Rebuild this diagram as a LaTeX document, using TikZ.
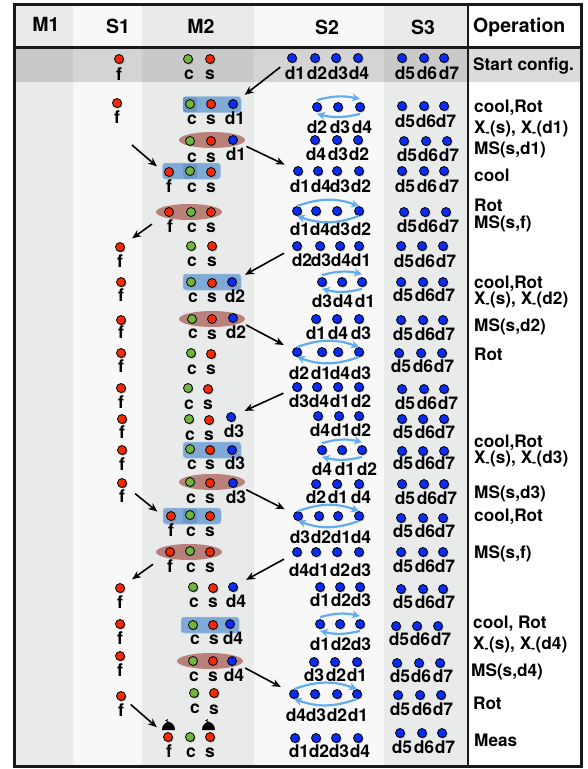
\documentclass[tikz,border=0pt]{standalone}
\usepackage{fontspec}
\setmainfont{TeX Gyre Heros}
\usepackage{tikz}
\usetikzlibrary{arrows.meta,positioning,shapes.geometric,shadows}
\definecolor{colgray}{HTML}{E9EBEA}
\definecolor{colpale}{HTML}{F8F8F8}
\definecolor{coolblue}{HTML}{7FA9D6}
\definecolor{cooldark}{HTML}{6A99C8}
\definecolor{gatered}{HTML}{BA817B}
\definecolor{swapblue}{HTML}{62ADF0}
\definecolor{ionred}{HTML}{F52A05}
\definecolor{iongreen}{HTML}{70B53C}
\definecolor{ionblue}{HTML}{0A2CF5}
\tikzset{
  ion/.style={draw=black,circle,inner sep=0pt,minimum size=9pt,line width=.8pt,
    drop shadow={shadow xshift=1pt,shadow yshift=-1pt,fill=black!50,opacity=1}},
  rion/.style={ion,fill=ionred},
  gion/.style={ion,fill=iongreen},
  bion/.style={ion,fill=ionblue},
  ionlabel/.style={inner sep=0pt,text height=12.5pt,text depth=0pt,font=\fontsize{17.5}{17.5}\selectfont\bfseries},
  head/.style={inner sep=0pt,font=\fontsize{19.5}{19.5}\selectfont\bfseries},
  oplabel/.style={inner sep=0pt,anchor=west,font=\fontsize{17.2}{17.2}\selectfont\bfseries},
  coolbox/.style={rounded corners=3pt,fill=coolblue,draw=coolblue!70!white,line width=.5pt,minimum width=58pt,minimum height=16pt},
  cooltile/.style={rounded corners=2pt,fill=cooldark,minimum width=14pt,minimum height=15pt},
  gatering/.style={ellipse,fill=gatered,inner sep=0pt,minimum width=66pt,minimum height=16pt},
  hop/.style={line width=1.6pt,-{Stealth[length=9pt,width=7.5pt]},shorten <=10pt,shorten >=10pt},
  swaparc/.style={swapblue,line width=2.2pt,-{Stealth[length=8pt,width=8pt]}}
}
% one row of ions: style, row tag, dot y, label y, list of dot x / label x / name
\newcommand{\ions}[5]{\foreach \px/\lx/\txt in {#5} {
  \node[#1] (\txt#2) at (\px,#3) {};
  \node[ionlabel] (l\txt#2) at (\lx,#4) {\txt};
}}
\begin{document}
\begin{tikzpicture}[x=1pt,y=-1pt]
\useasboundingbox (0,0) rectangle (587,769);
\fill[white] (0,0) rectangle (587,769);
% columns and the start row
\fill[colgray] (15,5) rectangle (73,766);
\fill[colpale] (73,5) rectangle (142,766);
\fill[colgray] (142,5) rectangle (254,766);
\fill[colpale] (254,5) rectangle (384,766);
\fill[colgray] (384,5) rectangle (468,766);
\fill[black,opacity=.14] (15,48) rectangle (581,82);
\draw[line width=2.6pt,black!90] (14.5,4.5) rectangle (581.5,766.5);
\draw[line width=2.6pt,black!90] (14.5,47.5) -- (581.5,47.5);
\draw[line width=2.6pt,black!90] (468,4.5) -- (468,766.5);
\node[head] (m1) at (46,24) {M1};
\node[head] (s1) at (118,26) {S1};
\node[head] (m2) at (201,26) {M2};
\node[head] (s2) at (327,27) {S2};
\node[head] (s3) at (423,27) {S3};
\node[head,anchor=west] (oper) at (473,27) {Operation};
% cooling boxes and gates, below the ions
\node[coolbox] (box1) at (212,104.5) {};
\node[cooltile] (tile1) at (190,104.5) {};
\node[gatering] (gate2) at (212,140) {};
\node[coolbox] (box3) at (191.5,171) {};
\node[cooltile] (tile3) at (190,171) {};
\node[gatering] (gate4) at (189,212) {};
\node[coolbox] (box6) at (212,282) {};
\node[gatering] (gate7) at (212,319) {};
\node[coolbox] (box11) at (212,450) {};
\node[gatering] (gate12) at (212,482) {};
\node[coolbox] (box13) at (192,516) {};
\node[cooltile] (tile13) at (190,516) {};
\node[gatering] (gate14) at (189,552) {};
\node[coolbox] (box16) at (210,625) {};
\node[gatering] (gate17) at (210,661) {};
% S1
\ions{rion}{r0}{59}{74}{119/119/f}
\ions{rion}{r1}{103}{117}{117/117/f}
\ions{rion}{r5}{247}{261}{120/120/f}
\ions{rion}{r6}{282}{295}{121/121/f}
\ions{rion}{r7}{320}{332}{121/121/f}
\ions{rion}{r8}{353}{366}{121/121/f}
\ions{rion}{r9}{388}{402}{121/121/f}
\ions{rion}{r10}{419}{432}{122/122/f}
\ions{rion}{r11}{450}{464}{122/122/f}
\ions{rion}{r12}{483}{496}{122/122/f}
\ions{rion}{r15}{588}{602}{120/120/f}
\ions{rion}{r16}{624}{638}{120/120/f}
\ions{rion}{r17}{656}{670}{120/120/f}
\ions{rion}{r18}{696}{710}{121/121/f}
% M2
\ions{gion}{r0}{59}{73}{188/189/c}
\ions{rion}{r0}{59}{73}{210/210/s}
\ions{gion}{r1}{104}{118}{190/192/c}
\ions{rion}{r1}{104}{118}{211/211/s}
\ions{bion}{r1}{104}{118}{233/235/d1}
\ions{gion}{r2}{141}{156}{190/192/c}
\ions{rion}{r2}{141}{156}{211/211/s}
\ions{bion}{r2}{140}{154}{233/236/d1}
\ions{rion}{r3}{172}{186}{169/169/f,211/211/s}
\ions{gion}{r3}{171}{186}{190/192/c}
\ions{rion}{r4}{212}{226}{169/170/f,211/211/s}
\ions{gion}{r4}{212}{226}{191/192/c}
\ions{gion}{r5}{246}{260}{191/192/c}
\ions{rion}{r5}{246}{260}{212/212/s}
\ions{gion}{r6}{282}{296}{191/193/c}
\ions{rion}{r6}{283}{296}{212/212/s}
\ions{bion}{r6}{282}{296}{232/235/d2}
\ions{gion}{r7}{319}{332}{192/193/c}
\ions{rion}{r7}{319}{333}{212/212/s}
\ions{bion}{r7}{318}{332}{233/236/d2}
\ions{gion}{r8}{353}{368}{191/192/c}
\ions{rion}{r8}{354}{368}{211/211/s}
\ions{gion}{r9}{388}{403}{188/189/c}
\ions{rion}{r9}{389}{403}{208/208/s}
\ions{gion}{r10}{419}{434}{189/190/c}
\ions{rion}{r10}{420}{434}{209/209/s}
\ions{bion}{r10}{417}{431}{231/234/d3}
\ions{gion}{r11}{449}{463}{190/192/c}
\ions{rion}{r11}{450}{463}{210/210/s}
\ions{bion}{r11}{450}{463}{232/235/d3}
\ions{gion}{r12}{482}{497}{190/191/c}
\ions{rion}{r12}{483}{497}{210/210/s}
\ions{bion}{r12}{483}{497}{233/236/d3}
\ions{rion}{r13}{516}{530}{171/171/f,210/210/s}
\ions{gion}{r13}{515}{530}{190/191/c}
\ions{rion}{r14}{552}{566}{170/170/f,210/210/s}
\ions{gion}{r14}{551}{566}{190/191/c}
\ions{gion}{r15}{587}{601}{193/194/c}
\ions{rion}{r15}{588}{601}{213/213/s}
\ions{bion}{r15}{587}{601}{233/236/d4}
\ions{gion}{r16}{625}{638}{193/195/c}
\ions{rion}{r16}{625}{638}{213/214/s}
\ions{bion}{r16}{624}{638}{230/233/d4}
\ions{gion}{r17}{661}{675}{193/194/c}
\ions{rion}{r17}{661}{675}{213/213/s}
\ions{bion}{r17}{661}{675}{232/234/d4}
\ions{gion}{r18}{693}{707}{194/195/c}
\ions{rion}{r18}{693}{708}{214/214/s}
\ions{rion}{r19}{737}{751}{168/169/f,210/210/s}
\ions{gion}{r19}{737}{751}{190/191/c}
% S2
\ions{bion}{r0}{58}{73}{292/295/d1,315/317/d2,336/338/d3,358/359/d4}
\ions{bion}{r1}{107}{127}{317/317/d2,338/340/d3,360/362/d4}
\ions{bion}{r2}{140}{154}{315/316/d4,337/338/d3,358/359/d2}
\ions{bion}{r3}{171}{186}{298/300/d1,318/321/d4,337/340/d3,359/361/d2}
\ions{bion}{r4}{211}{229}{297/300/d1,316/320/d4,337/340/d3,359/361/d2}
\ions{bion}{r5}{246}{260}{297/302/d2,320/321/d3,340/341/d4,359/361/d1}
\ions{bion}{r6}{282}{301}{322/322/d3,342/343/d4,362/365/d1}
\ions{bion}{r7}{319}{333}{316/316/d1,337/338/d4,359/361/d3}
\ions{bion}{r8}{352}{373}{297/299/d2,322/321/d1,338/340/d4,359/361/d3}
\ions{bion}{r9}{387}{401}{297/299/d3,317/319/d4,338/340/d1,359/361/d2}
\ions{bion}{r10}{416}{430}{318/320/d4,339/341/d1,359/361/d2}
\ions{bion}{r11}{450}{469}{322/322/d4,342/345/d1,362/367/d2}
\ions{bion}{r12}{484}{497}{316/316/d2,337/338/d1,359/361/d4}
\ions{bion}{r13}{516}{537}{298/300/d3,319/321/d2,338/341/d1,359/361/d4}
\ions{bion}{r14}{552}{570}{297/299/d4,316/319/d1,337/340/d2,359/361/d3}
\ions{bion}{r15}{587}{600}{320/320/d1,340/341/d2,360/361/d3}
\ions{bion}{r16}{624}{644}{320/320/d1,340/341/d2,360/361/d3}
\ions{bion}{r17}{662}{675}{314/314/d3,335/336/d2,357/357/d1}
\ions{bion}{r18}{694}{715}{294/296/d4,315/316/d3,337/337/d2,357/358/d1}
\ions{bion}{r19}{738}{751}{295/299/d1,316/319/d2,336/339/d3,358/360/d4}
% S3
\ions{bion}{r0}{58}{73}{402/405/d5,424/427/d6,444/449/d7}
\ions{bion}{r1}{106}{121}{402/405/d5,424/426/d6,444/446/d7}
\ions{bion}{r2}{141}{155}{404/407/d5,426/428/d6,447/449/d7}
\ions{bion}{r3}{171}{186}{402/405/d5,424/427/d6,444/449/d7}
\ions{bion}{r4}{212}{226}{404/407/d5,425/428/d6,446/449/d7}
\ions{bion}{r5}{246}{261}{401/404/d5,422/425/d6,443/446/d7}
\ions{bion}{r6}{282}{295}{401/403/d5,423/425/d6,443/445/d7}
\ions{bion}{r7}{320}{334}{401/403/d5,423/425/d6,443/445/d7}
\ions{bion}{r8}{353}{366}{399/401/d5,421/423/d6,442/444/d7}
\ions{bion}{r9}{389}{403}{402/405/d5,424/427/d6,444/448/d7}
\ions{bion}{r10}{419}{432}{402/403/d5,423/425/d6,444/445/d7}
\ions{bion}{r11}{451}{463}{402/403/d5,423/425/d6,444/445/d7}
\ions{bion}{r12}{484}{498}{402/405/d5,424/427/d6,444/447/d7}
\ions{bion}{r13}{518}{531}{401/403/d5,423/425/d6,443/445/d7}
\ions{bion}{r14}{552}{566}{401/403/d5,423/425/d6,443/445/d7}
\ions{bion}{r15}{589}{602}{401/403/d5,423/425/d6,443/445/d7}
\ions{bion}{r16}{626}{639}{396/399/d5,417/420/d6,438/441/d7}
\ions{bion}{r17}{663}{676}{397/400/d5,419/421/d6,440/443/d7}
\ions{bion}{r18}{695}{709}{398/400/d5,420/422/d6,441/443/d7}
\ions{bion}{r19}{733}{747}{400/402/d5,422/424/d6,442/445/d7}
% rotations in S2
\draw[swaparc] ([yshift=2pt]d2r1.north) to[bend left=14] ([yshift=3pt]d4r1.north);
\draw[swaparc] ([yshift=-2pt]d4r1.south) to[bend left=14] ([yshift=-2pt]d2r1.south);
\draw[swaparc] (d1r4.north) to[bend left=20] (d2r4.north);
\draw[swaparc] (d2r4.south) to[bend left=20] (d1r4.south);
\draw[swaparc] ([yshift=2pt]d3r6.north) to[bend left=14] ([yshift=3pt]d1r6.north);
\draw[swaparc] ([yshift=-2pt]d1r6.south) to[bend left=14] ([yshift=-2pt]d3r6.south);
\draw[swaparc] (d2r8.north) to[bend left=20] (d3r8.north);
\draw[swaparc] (d3r8.south) to[bend left=20] (d2r8.south);
\draw[swaparc] ([yshift=2pt]d4r11.north) to[bend left=14] ([yshift=3pt]d2r11.north);
\draw[swaparc] ([yshift=-2pt]d2r11.south) to[bend left=14] ([yshift=-2pt]d4r11.south);
\draw[swaparc] (d3r13.north) to[bend left=20] (d4r13.north);
\draw[swaparc] (d4r13.south) to[bend left=20] (d3r13.south);
\draw[swaparc] ([yshift=2pt]d1r16.north) to[bend left=14] ([yshift=3pt]d3r16.north);
\draw[swaparc] ([yshift=-2pt]d3r16.south) to[bend left=14] ([yshift=-2pt]d1r16.south);
\draw[swaparc] (d4r18.north) to[bend left=20] (d1r18.north);
\draw[swaparc] (d1r18.south) to[bend left=20] (d4r18.south);
% ion moves
\coordinate (ftail) at (132,145);
\draw[hop] (d1r0) -- (d1r1);
\draw[hop] (d1r2) -- (d1r3);
\draw[hop,shorten <=0pt,shorten >=7pt] (ftail) -- (box3.west);
\draw[hop,shorten <=16pt] (fr4) -- (fr5);
\draw[hop] (d2r5) -- (d2r6);
\draw[hop] (d2r7) -- (d2r8);
\draw[hop] (d3r9) -- (d3r10);
\draw[hop,shorten <=12pt,shorten >=7pt] (fr12) -- (box13.west);
\draw[hop] (d3r12) -- (d3r13);
\draw[hop,shorten <=16pt] (fr14) -- (fr15);
\draw[hop] (d4r14) -- (d4r15);
\draw[hop] (d4r17) -- (d4r18);
\draw[hop,shorten <=8pt] (fr18) -- (fr19);
% detector bells
\foreach \bx in {168.5,208.5} {
  \fill[black] (\bx-6.5,730) .. controls (\bx-6.5,725) and (\bx-3,722) .. (\bx,722) .. controls (\bx+3,722) and (\bx+6.5,725) .. (\bx+6.5,730) -- cycle;
  \draw[line width=.8pt] (\bx,722) -- (\bx-2.5,720.5) -- (\bx-.5,719.5);
}
% operations
\node[oplabel] (op0) at (473,66) {Start config.};
\node[oplabel] (op1) at (474,108) {cool,Rot};
\node[oplabel] (op2) at (474,129) {X\textsubscript{-}(s), X\textsubscript{-}(d1)};
\node[oplabel] (op3) at (474,150) {MS(s,d1)};
\node[oplabel] (op4) at (474,175) {cool};
\node[oplabel] (op5) at (474,205) {Rot};
\node[oplabel] (op6) at (474,224) {MS(s,f)};
\node[oplabel] (op7) at (474,284) {cool,Rot};
\node[oplabel] (op8) at (474,300) {X\textsubscript{-}(s), X\textsubscript{-}(d2)};
\node[oplabel] (op9) at (474,327) {MS(s,d2)};
\node[oplabel] (op10) at (474,354) {Rot};
\node[oplabel] (op11) at (474,443) {cool,Rot};
\node[oplabel] (op12) at (474,459) {X\textsubscript{-}(s), X\textsubscript{-}(d3)};
\node[oplabel] (op13) at (474,494) {MS(s,d3)};
\node[oplabel] (op14) at (474,517) {cool,Rot};
\node[oplabel] (op15) at (474,554) {MS(s,f)};
\node[oplabel] (op16) at (473,624) {cool, Rot};
\node[oplabel] (op17) at (473,645) {X\textsubscript{-}(s), X\textsubscript{-}(d4)};
\node[oplabel] (op18) at (471,672) {MS(s,d4)};
\node[oplabel] (op19) at (473,703) {Rot};
\node[oplabel] (op20) at (474,740) {Meas};
\end{tikzpicture}
\end{document}
